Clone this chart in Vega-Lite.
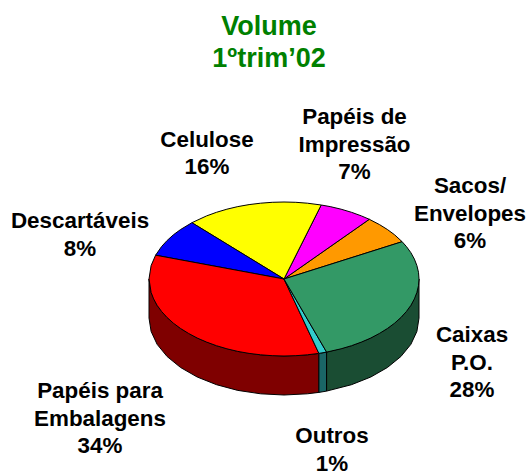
{
"$schema":"https://vega.github.io/schema/vega-lite/v6.json",
"width":531,"height":393,"autosize":"none","padding":{"top":80,"left":0,"right":0,"bottom":0},
"background":"white","view":{"stroke":null},
"title":{"text":["Volume","1ºtrim’02"],"font":"Liberation Sans","fontWeight":"bold","fontSize":27,"color":"#008000","lineHeight":32,"anchor":"middle","dx":3.5,"offset":7},
"datasets":{
"fatias":[
{"n":"Papéis para Embalagens (lateral)","x":-135,"y":0},{"n":"Papéis para Embalagens (lateral)","x":-132.9,"y":-13.4},{"n":"Papéis para Embalagens (lateral)","x":-126.9,"y":-26.3},{"n":"Papéis para Embalagens (lateral)","x":-116.9,"y":-38.5},{"n":"Papéis para Embalagens (lateral)","x":-103.4,"y":-49.5},{"n":"Papéis para Embalagens (lateral)","x":-86.8,"y":-59},{"n":"Papéis para Embalagens (lateral)","x":-67.5,"y":-66.7},{"n":"Papéis para Embalagens (lateral)","x":-46.2,"y":-72.4},{"n":"Papéis para Embalagens (lateral)","x":-23.4,"y":-75.8},{"n":"Papéis para Embalagens (lateral)","x":0,"y":-77},{"n":"Papéis para Embalagens (lateral)","x":23.4,"y":-75.8},{"n":"Papéis para Embalagens (lateral)","x":34.9,"y":-74.4},{"n":"Papéis para Embalagens (lateral)","x":34.9,"y":-113.4},{"n":"Papéis para Embalagens (lateral)","x":23.4,"y":-114.8},{"n":"Papéis para Embalagens (lateral)","x":0,"y":-116},{"n":"Papéis para Embalagens (lateral)","x":-23.4,"y":-114.8},{"n":"Papéis para Embalagens (lateral)","x":-46.2,"y":-111.4},{"n":"Papéis para Embalagens (lateral)","x":-67.5,"y":-105.7},{"n":"Papéis para Embalagens (lateral)","x":-86.8,"y":-98},{"n":"Papéis para Embalagens (lateral)","x":-103.4,"y":-88.5},{"n":"Papéis para Embalagens (lateral)","x":-116.9,"y":-77.5},{"n":"Papéis para Embalagens (lateral)","x":-126.9,"y":-65.3},{"n":"Papéis para Embalagens (lateral)","x":-132.9,"y":-52.4},{"n":"Papéis para Embalagens (lateral)","x":-135,"y":-39},{"n":"Papéis para Embalagens (lateral)","x":-135,"y":0},
{"n":"Outros (lateral)","x":34.9,"y":-74.4},{"n":"Outros (lateral)","x":42.6,"y":-73.1},{"n":"Outros (lateral)","x":42.6,"y":-112.1},{"n":"Outros (lateral)","x":34.9,"y":-113.4},{"n":"Outros (lateral)","x":34.9,"y":-74.4},
{"n":"Caixas P.O. (lateral)","x":42.6,"y":-73.1},{"n":"Caixas P.O. (lateral)","x":67.5,"y":-66.7},{"n":"Caixas P.O. (lateral)","x":86.8,"y":-59},{"n":"Caixas P.O. (lateral)","x":103.4,"y":-49.5},{"n":"Caixas P.O. (lateral)","x":116.9,"y":-38.5},{"n":"Caixas P.O. (lateral)","x":126.9,"y":-26.3},{"n":"Caixas P.O. (lateral)","x":132.9,"y":-13.4},{"n":"Caixas P.O. (lateral)","x":135,"y":0},{"n":"Caixas P.O. (lateral)","x":135,"y":-39},{"n":"Caixas P.O. (lateral)","x":132.9,"y":-52.4},{"n":"Caixas P.O. (lateral)","x":126.9,"y":-65.3},{"n":"Caixas P.O. (lateral)","x":116.9,"y":-77.5},{"n":"Caixas P.O. (lateral)","x":103.4,"y":-88.5},{"n":"Caixas P.O. (lateral)","x":86.8,"y":-98},{"n":"Caixas P.O. (lateral)","x":67.5,"y":-105.7},{"n":"Caixas P.O. (lateral)","x":42.6,"y":-112.1},{"n":"Caixas P.O. (lateral)","x":42.6,"y":-73.1},
{"n":"Sacos/Envelopes","x":0,"y":0},{"n":"Sacos/Envelopes","x":118.1,"y":37.3},{"n":"Sacos/Envelopes","x":110.6,"y":44.2},{"n":"Sacos/Envelopes","x":103.4,"y":49.5},{"n":"Sacos/Envelopes","x":95.5,"y":54.4},{"n":"Sacos/Envelopes","x":85.3,"y":59.7},{"n":"Sacos/Envelopes","x":0,"y":0},
{"n":"Papéis de Impressão","x":0,"y":0},{"n":"Papéis de Impressão","x":85.3,"y":59.7},{"n":"Papéis de Impressão","x":77.4,"y":63.1},{"n":"Papéis de Impressão","x":67.5,"y":66.7},{"n":"Papéis de Impressão","x":57.1,"y":69.8},{"n":"Papéis de Impressão","x":46.2,"y":72.4},{"n":"Papéis de Impressão","x":37.2,"y":74},{"n":"Papéis de Impressão","x":0,"y":0},
{"n":"Celulose","x":0,"y":0},{"n":"Celulose","x":37.2,"y":74},{"n":"Celulose","x":23.4,"y":75.8},{"n":"Celulose","x":11.8,"y":76.7},{"n":"Celulose","x":0,"y":77},{"n":"Celulose","x":-11.8,"y":76.7},{"n":"Celulose","x":-23.4,"y":75.8},{"n":"Celulose","x":-34.9,"y":74.4},{"n":"Celulose","x":-46.2,"y":72.4},{"n":"Celulose","x":-57.1,"y":69.8},{"n":"Celulose","x":-67.5,"y":66.7},{"n":"Celulose","x":-77.4,"y":63.1},{"n":"Celulose","x":-92.1,"y":56.3},{"n":"Celulose","x":0,"y":0},
{"n":"Descartáveis","x":0,"y":0},{"n":"Descartáveis","x":-92.1,"y":56.3},{"n":"Descartáveis","x":-103.4,"y":49.5},{"n":"Descartáveis","x":-110.6,"y":44.2},{"n":"Descartáveis","x":-116.9,"y":38.5},{"n":"Descartáveis","x":-122.4,"y":32.5},{"n":"Descartáveis","x":-128.4,"y":23.8},{"n":"Descartáveis","x":0,"y":0},
{"n":"Papéis para Embalagens","x":0,"y":0},{"n":"Papéis para Embalagens","x":-128.4,"y":23.8},{"n":"Papéis para Embalagens","x":-132.9,"y":13.4},{"n":"Papéis para Embalagens","x":-135,"y":0},{"n":"Papéis para Embalagens","x":-132.9,"y":-13.4},{"n":"Papéis para Embalagens","x":-130.4,"y":-19.9},{"n":"Papéis para Embalagens","x":-126.9,"y":-26.3},{"n":"Papéis para Embalagens","x":-122.4,"y":-32.5},{"n":"Papéis para Embalagens","x":-116.9,"y":-38.5},{"n":"Papéis para Embalagens","x":-110.6,"y":-44.2},{"n":"Papéis para Embalagens","x":-103.4,"y":-49.5},{"n":"Papéis para Embalagens","x":-95.5,"y":-54.4},{"n":"Papéis para Embalagens","x":-86.8,"y":-59},{"n":"Papéis para Embalagens","x":-77.4,"y":-63.1},{"n":"Papéis para Embalagens","x":-67.5,"y":-66.7},{"n":"Papéis para Embalagens","x":-57.1,"y":-69.8},{"n":"Papéis para Embalagens","x":-46.2,"y":-72.4},{"n":"Papéis para Embalagens","x":-34.9,"y":-74.4},{"n":"Papéis para Embalagens","x":-23.4,"y":-75.8},{"n":"Papéis para Embalagens","x":-11.8,"y":-76.7},{"n":"Papéis para Embalagens","x":0,"y":-77},{"n":"Papéis para Embalagens","x":11.8,"y":-76.7},{"n":"Papéis para Embalagens","x":23.4,"y":-75.8},{"n":"Papéis para Embalagens","x":34.9,"y":-74.4},{"n":"Papéis para Embalagens","x":0,"y":0},
{"n":"Outros","x":0,"y":0},{"n":"Outros","x":34.9,"y":-74.4},{"n":"Outros","x":42.6,"y":-73.1},{"n":"Outros","x":0,"y":0},
{"n":"Caixas P.O.","x":0,"y":0},{"n":"Caixas P.O.","x":42.6,"y":-73.1},{"n":"Caixas P.O.","x":57.1,"y":-69.8},{"n":"Caixas P.O.","x":67.5,"y":-66.7},{"n":"Caixas P.O.","x":77.4,"y":-63.1},{"n":"Caixas P.O.","x":86.8,"y":-59},{"n":"Caixas P.O.","x":95.5,"y":-54.4},{"n":"Caixas P.O.","x":103.4,"y":-49.5},{"n":"Caixas P.O.","x":110.6,"y":-44.2},{"n":"Caixas P.O.","x":116.9,"y":-38.5},{"n":"Caixas P.O.","x":122.4,"y":-32.5},{"n":"Caixas P.O.","x":126.9,"y":-26.3},{"n":"Caixas P.O.","x":130.4,"y":-19.9},{"n":"Caixas P.O.","x":132.9,"y":-13.4},{"n":"Caixas P.O.","x":134.5,"y":-6.7},{"n":"Caixas P.O.","x":135,"y":0},{"n":"Caixas P.O.","x":134.5,"y":6.7},{"n":"Caixas P.O.","x":132.9,"y":13.4},{"n":"Caixas P.O.","x":130.4,"y":19.9},{"n":"Caixas P.O.","x":126.9,"y":26.3},{"n":"Caixas P.O.","x":122.4,"y":32.5},{"n":"Caixas P.O.","x":118.1,"y":37.3},{"n":"Caixas P.O.","x":0,"y":0}
],
"rotulos":[
{"rotulo":"Papéis de\nImpressão\n7%","x":70.5,"y":155},
{"rotulo":"Celulose\n16%","x":-77,"y":132.5},
{"rotulo":"Descartáveis\n8%","x":-204,"y":51},
{"rotulo":"Sacos/\nEnvelopes\n6%","x":186,"y":86},
{"rotulo":"Caixas\nP.O.\n28%","x":188,"y":-63},
{"rotulo":"Papéis para\nEmbalagens\n34%","x":-184,"y":-119},
{"rotulo":"Outros\n1%","x":48,"y":-164}
]},
"layer":[
{"data":{"name":"fatias"},
"transform":[{"window":[{"op":"row_number","as":"o"}],"groupby":["n"]}],
"mark":{"type":"line","stroke":"black","strokeWidth":1,"strokeJoin":"round"},
"encoding":{
"x":{"field":"x","type":"quantitative","scale":{"domain":[-284,247],"nice":false,"zero":false},"axis":null},
"y":{"field":"y","type":"quantitative","scale":{"domain":[-194,199],"nice":false,"zero":false},"axis":null},
"order":{"field":"o","type":"quantitative"},
"detail":{"field":"n"},
"fill":{"field":"n","type":"nominal","legend":null,"scale":{
"domain":["Papéis para Embalagens (lateral)","Outros (lateral)","Caixas P.O. (lateral)","Sacos/Envelopes","Papéis de Impressão","Celulose","Descartáveis","Papéis para Embalagens","Outros","Caixas P.O."],
"range":["#7F0000","#1A6666","#1A4D33","#FF9900","#FF00FF","#FFFF00","#0000FF","#FF0000","#33CCCC","#339966"]}}
}},
{"data":{"name":"rotulos"},
"mark":{"type":"text","font":"Liberation Sans","fontWeight":"bold","fontSize":22.4,"lineHeight":27.5,"lineBreak":"\n","align":"center","baseline":"alphabetic","color":"black"},
"encoding":{
"x":{"field":"x","type":"quantitative"},
"y":{"field":"y","type":"quantitative"},
"text":{"field":"rotulo","type":"nominal"}
}}
]
}
